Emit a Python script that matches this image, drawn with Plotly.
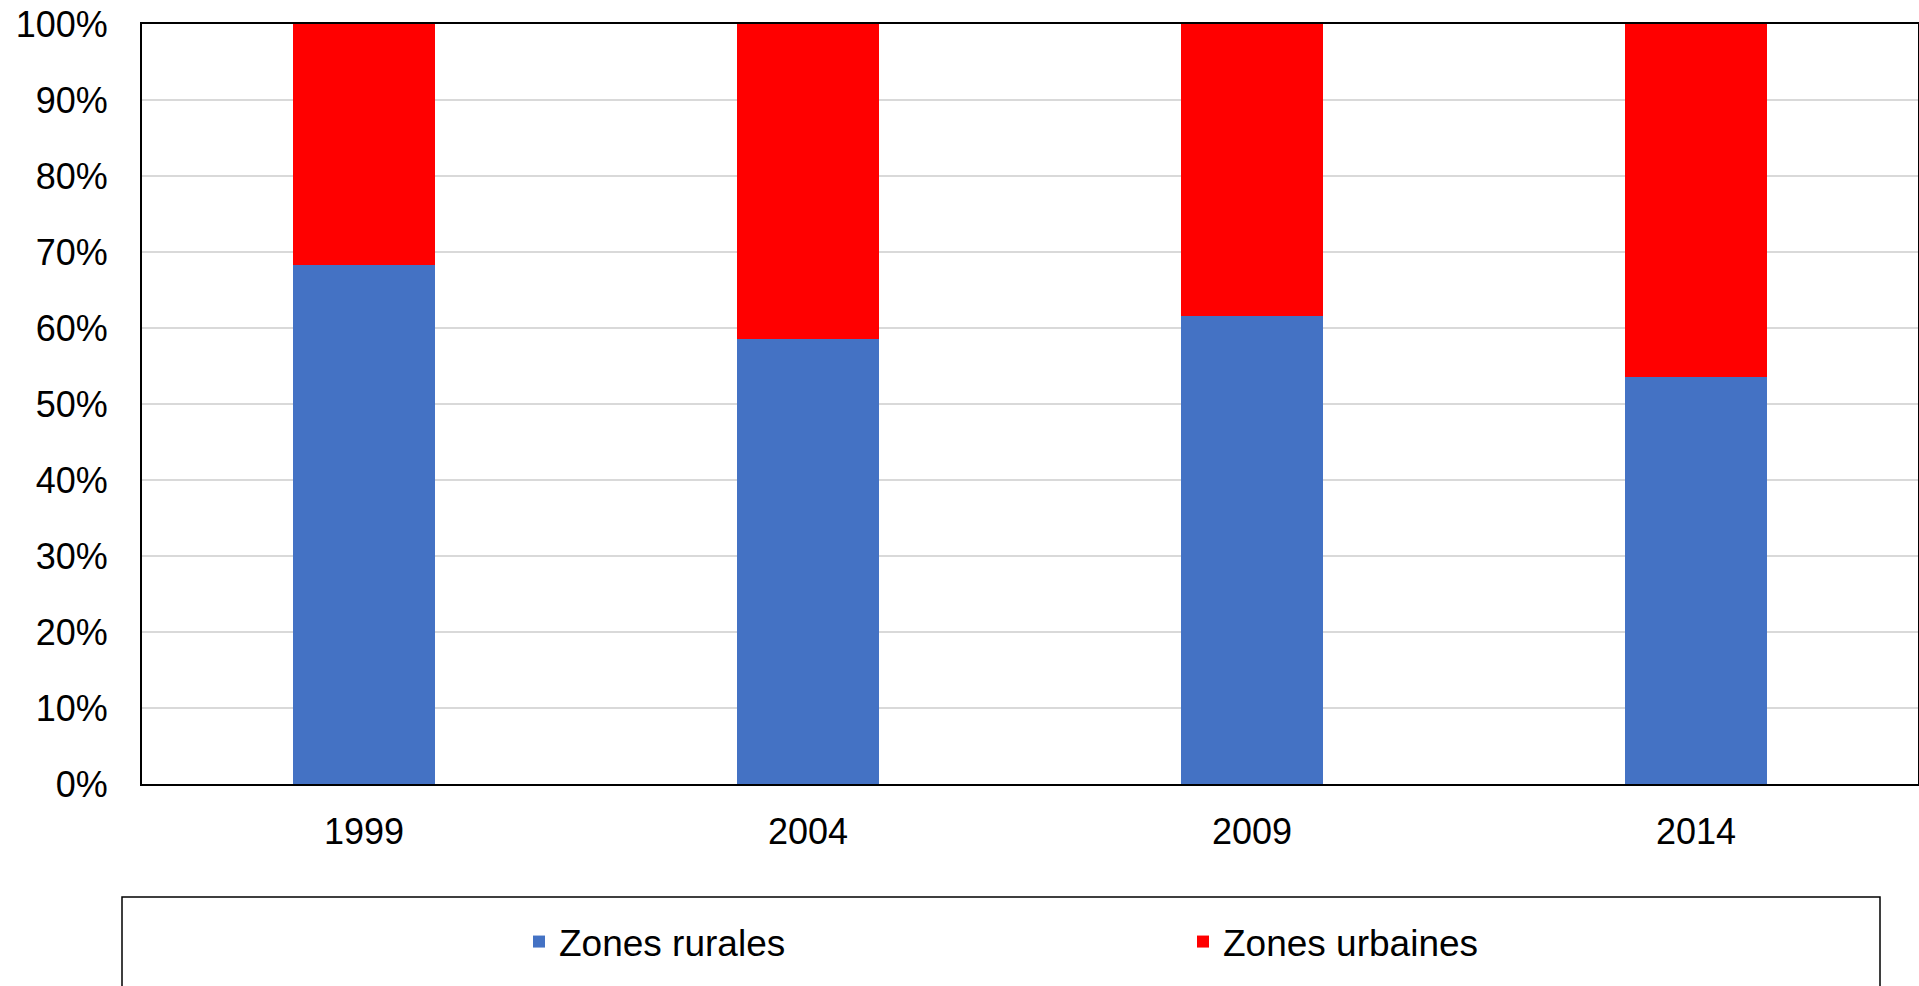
import plotly.graph_objects as go

years = ["1999", "2004", "2009", "2014"]
rurales = [68.3, 58.5, 61.6, 53.5]
urbaines = [31.7, 41.5, 38.4, 46.5]
series_names = ["Zones rurales", "Zones urbaines"]
y_ticks = [0, 10, 20, 30, 40, 50, 60, 70, 80, 90, 100]
y_tick_labels = [f"{v}%" for v in y_ticks]

FONT = "Liberation Sans, Arial, sans-serif"

fig = go.Figure()
fig.add_trace(go.Bar(x=years, y=rurales, name=series_names[0],
                     marker=dict(color="#4472C4", line=dict(width=0))))
fig.add_trace(go.Bar(x=years, y=urbaines, name=series_names[1],
                     marker=dict(color="#FF0000", line=dict(width=0))))

# body margin removed via post_script, so page px == figure px
W, H = 1919, 986
L, T = 142, 24
plot_bottom = 784
plot_right = 1918
R = W - plot_right
B = H - plot_bottom
pw = W - L - R
ph = H - T - B

def px_x(v):  # page px -> paper
    return (v - L) / pw

def px_y(v):
    return (plot_bottom - v) / ph

fig.update_layout(
    barmode="stack",
    bargap=0.682,
    width=W, height=H,
    margin=dict(l=L, r=R, t=T, b=B, autoexpand=False),
    paper_bgcolor="white",
    plot_bgcolor="white",
    font=dict(family=FONT, size=36, color="black"),
    showlegend=True,
    legend=dict(
        orientation="h",
        x=px_x(519), xanchor="left",
        y=px_y(942), yanchor="middle",
        font=dict(family=FONT, size=37, color="black"),
        entrywidth=619, entrywidthmode="pixels",
        bgcolor="rgba(0,0,0,0)",
        borderwidth=0,
        traceorder="normal",
    ),
    xaxis=dict(
        type="category",
        showline=True, linecolor="black", linewidth=2, mirror=True,
        showgrid=False, ticks="", ticklabelstandoff=15,
        tickfont=dict(family=FONT, size=36, color="black"),
    ),
    yaxis=dict(
        range=[0, 100], tickmode="array", tickvals=y_ticks, ticktext=y_tick_labels,
        showline=True, linecolor="black", linewidth=2, mirror=True,
        showgrid=True, gridcolor="#D9D9D9", gridwidth=1.5,
        zeroline=False, ticks="", ticklabelstandoff=25,
        ticklabeloverflow="allow",
        tickfont=dict(family=FONT, size=36, color="black"),
    ),
    shapes=[dict(
        type="rect", xref="paper", yref="paper",
        x0=px_x(122), x1=px_x(1880), y0=px_y(897), y1=px_y(1010),
        line=dict(color="black", width=1.5), fillcolor="rgba(0,0,0,0)",
        layer="below",
    )],
)

fig.write_html(
    "out.html",
    config={"displayModeBar": False},
    post_script="document.body.style.margin='0';document.body.style.overflow='hidden';",
)
